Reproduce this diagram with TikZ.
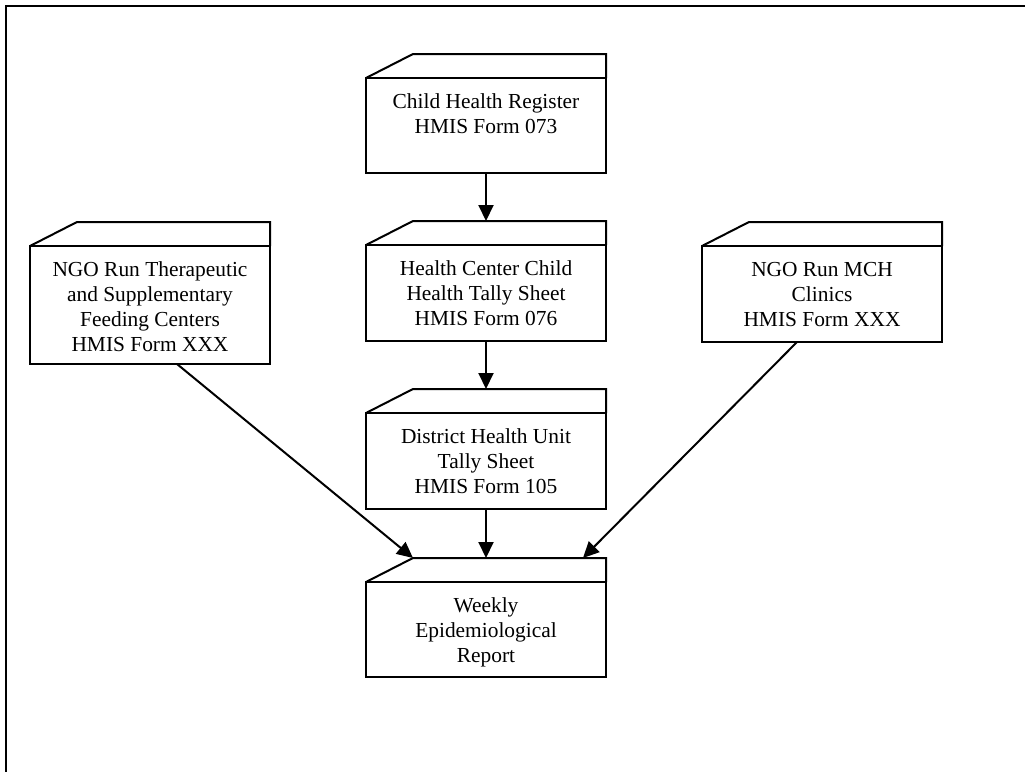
\documentclass[tikz,border=0pt]{standalone}
\usepackage{fontspec}
\setmainfont{Liberation Serif}
\usetikzlibrary{arrows.meta}

\newcommand{\formtext}[1]{\begin{tabular}[t]{@{}c@{}}#1\end{tabular}}

\begin{document}
\begin{tikzpicture}[x=0.5pt, y=-0.5pt,
        form/.style={draw, line width=1pt, minimum width=120pt, inner sep=0pt, outer sep=0pt,
            anchor=north, text height=15.2pt, text depth=#1,
            font=\fontsize{10.7}{12.5}\selectfont},
        form/.default=32.8pt,
        flow/.style={line width=1pt, -{Triangle[length=8pt, width=7.5pt]}}]
        \useasboundingbox (0,0) rectangle (1025,772);

        % Outer frame
        \draw[line width=1pt] (6,772) -- (6,6) -- (1025,6);

        % Forms
        \node[form=32.3pt] (chr) at (486,78) {\formtext{Child Health Register\\HMIS Form 073}};
        \node[form] (hcs) at (486,245) {\formtext{Health Center Child\\Health Tally Sheet\\HMIS Form 076}};
        \node[form] (dhu) at (486,413) {\formtext{District Health Unit\\Tally Sheet\\HMIS Form 105}};
        \node[form=32.3pt] (wer) at (486,582) {\formtext{Weekly\\Epidemiological\\Report}};
        \node[form=43.8pt] (ngot) at (150,246) {\formtext{NGO Run Therapeutic\\and Supplementary\\Feeding Centers\\HMIS Form XXX}};
        \node[form] (ngom) at (822,246) {\formtext{NGO Run MCH\\Clinics\\HMIS Form XXX}};

        % Top faces
        \foreach \n in {chr,hcs,dhu,wer,ngot,ngom}
            \draw[line width=1pt] (\n.north west) -- ++(47,-24) -- ([yshift=12pt]\n.north east) -- (\n.north east);

        % Flow
        \draw[flow] (chr.south) -- ([yshift=12pt]hcs.north);
        \draw[flow] (hcs.south) -- ([yshift=12pt]dhu.north);
        \draw[flow] (dhu.south) -- ([yshift=12pt]wer.north);
        \draw[flow] ([xshift=13.5pt]ngot.south) -- ([xshift=23.5pt, yshift=12pt]wer.north west);
        \draw[flow] ([xshift=-12.5pt]ngom.south) -- ([xshift=-11.5pt, yshift=12pt]wer.north east);
    \end{tikzpicture}
\end{document}
